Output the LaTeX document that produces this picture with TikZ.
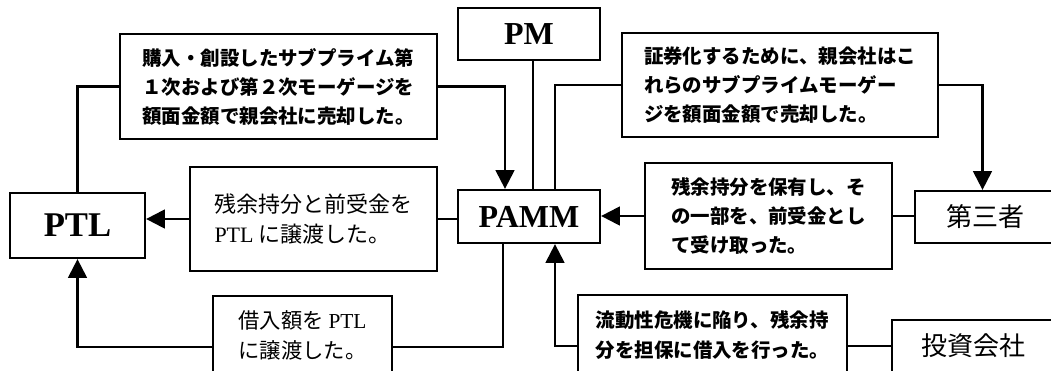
\documentclass[tikz,border=0pt]{standalone}
\usepackage{fontspec}
\setmainfont{Liberation Serif}
\newfontfamily\jp{Noto Sans CJK JP}
\usetikzlibrary{arrows.meta,calc}
\begin{document}
\begin{tikzpicture}[x=0.75pt,y=-0.75pt,
  box/.style={draw,line width=1.7pt,inner sep=0pt,align=left},
  ent/.style={draw,line width=1.7pt,inner sep=0pt,font=\bfseries\fontsize{24}{28}\selectfont},
  jent/.style={draw,line width=1.7pt,inner sep=0pt,font=\jp\fontsize{19.5}{24}\selectfont},
  bt/.style={font=\jp\bfseries\fontsize{14.6}{21.75}\selectfont},
  rt/.style={font=\jp\fontsize{16.5}{22.5}\selectfont},
  ln/.style={line width=1.7pt},
  arr/.style={ln,-{Triangle[length=14pt,width=14pt]}}]
\useasboundingbox (0,0) rectangle (1051,371);
\clip (0,0) rectangle (1051,371);

\node[box,bt,minimum width=237.75pt,minimum height=78.75pt] (b1) at (278.5,86.5)
  {購入・創設したサブプライム第\\１次および第２次モーゲージを\\額面金額で親会社に売却した。};
\node[ent,minimum width=106.5pt,minimum height=39pt] (pm) at (529,34) {PM};
\node[box,bt,minimum width=237pt,minimum height=78pt] (b2) at (780,85)
  {証券化するために、親会社はこ\\れらのサブプライムモーゲー\\ジを額面金額で売却した。};
\node[ent,font=\bfseries\fontsize{26}{30}\selectfont,minimum width=101.25pt,minimum height=48.75pt] (ptl) at (77.5,225.5) {PTL};
\node[box,rt,minimum width=185.25pt,minimum height=78pt] (b3) at (313.5,219)
  {残余持分と前受金を\\{\rmfamily PTL} に譲渡した。};
\node[ent,minimum width=106.5pt,minimum height=39.75pt] (pamm) at (529,216.5) {PAMM};
\node[box,bt,minimum width=185.25pt,minimum height=79.5pt] (b5) at (768.5,216)
  {残余持分を保有し、そ\\の一部を、前受金とし\\て受け取った。};
\node[jent,minimum width=105.75pt,minimum height=39pt] (third) at (985.5,217) {第三者};
\node[box,rt,font=\jp\fontsize{16}{22.5}\selectfont,minimum width=134.25pt,minimum height=76.5pt] (b4) at (302.5,347)
  {借入額を {\rmfamily PTL}\\に譲渡した。\\[-4.5pt]};
\node[box,bt,font=\jp\bfseries\fontsize{14.6}{22.5}\selectfont,minimum width=201.75pt,minimum height=76.5pt] (b6) at (712.5,346)
  {流動性危機に陥り、残余持\\分を担保に借入を行った。\\[-4.5pt]};
\node[jent,minimum width=121.5pt,minimum height=39pt] (inv) at (973,346) {投資会社};

\draw[ln] (b1.west) -| (ptl.north);
\draw[arr] (b1.east) -| ($(pamm.north)+(-24,0)$);
\draw[ln] ($(pm.south)+(4,0)$) -- ($(pamm.north)+(4,0)$);
\draw[ln] (b2.west) -| ($(pamm.north)+(26,0)$);
\draw[arr] (b2.east) -| ($(third.north)+(-3,0)$);
\draw[arr] (b3.west) -- (b3.west -| ptl.east);
\draw[ln] (b3.east) -- (b3.east -| pamm.west);
\draw[arr] (b5.west) -- (b5.west -| pamm.east);
\draw[ln] (b5.east) -- (b5.east -| third.west);
\draw[arr] (b4.west) -| (ptl.south);
\draw[ln] (b4.east) -| ($(pamm.south)+(-26,0)$);
\draw[arr] (b6.west) -| ($(pamm.south)+(26,0)$);
\draw[ln] (b6.east) -- (inv.west);
\end{tikzpicture}
\end{document}
